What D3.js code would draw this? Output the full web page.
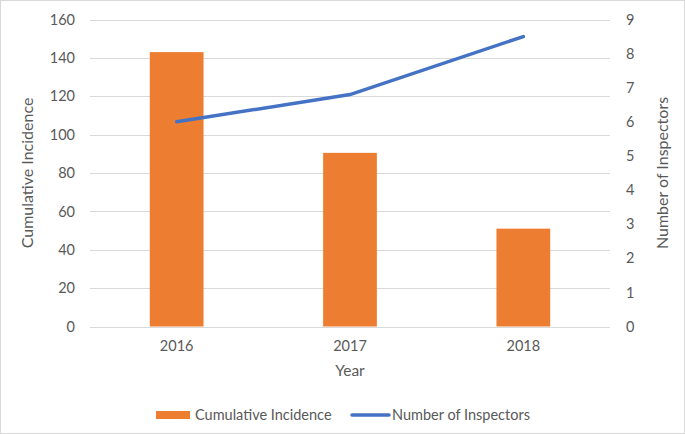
<!DOCTYPE html>
<html><head><meta charset="utf-8">
<script src="https://cdn.jsdelivr.net/npm/d3@7"></script>
<style>body{margin:0;background:#fff}svg{display:block}text{font-family:Lato,"Open Sans",sans-serif;fill:#595959}</style>
</head><body>
<svg id="c" width="685" height="434"></svg>
<script>
const years = ["2016","2017","2018"];
const incidence = [143, 90.5, 51];
const inspectors = [6, 6.8, 8.5];
const leftTicks = [0,20,40,60,80,100,120,140,160];
const rightTicks = [0,1,2,3,4,5,6,7,8,9];

const svg = d3.select("#c");
const W=685,H=434;
svg.append("rect").attr("x",0.5).attr("y",0.5).attr("width",W-1).attr("height",H-1).attr("fill","#fff").attr("stroke","#d9d9d9");
const L=90,R=610,T=19.5,B=326.5;
const x = d3.scaleBand().domain(years).range([L,R]).paddingInner(0.69).paddingOuter(0.345);
const yL = d3.scaleLinear().domain([0,160]).range([B,T]);
const yR = d3.scaleLinear().domain([0,9]).range([B,T]);

svg.append("g").selectAll("line").data(leftTicks).join("line")
  .attr("x1",L).attr("x2",R).attr("y1",d=>Math.round(yL(d))+0.5).attr("y2",d=>Math.round(yL(d))+0.5)
  .attr("stroke","#d9d9d9").attr("stroke-width",1);

svg.append("g").selectAll("rect").data(years).join("rect")
  .attr("x",d=>x(d)).attr("width",x.bandwidth())
  .attr("y",(d,i)=>yL(incidence[i])).attr("height",(d,i)=>B-yL(incidence[i]))
  .attr("fill","#ED7D31");

const line = d3.line().x((d,i)=>x(years[i])+x.bandwidth()/2).y(d=>yR(d));
svg.append("path").datum(inspectors).attr("d",line).attr("fill","none")
  .attr("stroke","#4472C4").attr("stroke-width",3.5).attr("stroke-linecap","round");

const gl = svg.append("g").attr("transform",`translate(${L},0)`)
  .call(d3.axisLeft(yL).tickValues(leftTicks).tickSize(0).tickPadding(15));
gl.select(".domain").remove();
gl.selectAll("text").style("font-size","14.5px").attr("fill","#595959");
const gr = svg.append("g").attr("transform",`translate(${R},0)`)
  .call(d3.axisRight(yR).tickValues(rightTicks).tickSize(0).tickPadding(16));
gr.select(".domain").remove();
gr.selectAll("text").style("font-size","14.5px").attr("fill","#595959");
const gx = svg.append("g").attr("transform",`translate(0,${B})`)
  .call(d3.axisBottom(x).tickSize(0).tickPadding(14));
gx.select(".domain").remove();
gx.selectAll("text").style("font-size","14.5px").attr("fill","#595959");

svg.append("text").attr("x",350).attr("y",376).attr("text-anchor","middle").style("font-size","15.5px").text("Year");
svg.append("text").attr("transform","translate(33,173) rotate(-90)").attr("text-anchor","middle").style("font-size","16px").text("Cumulative Incidence");
svg.append("text").attr("transform","translate(668,173) rotate(-90)").attr("text-anchor","middle").style("font-size","16px").text("Number of Inspectors");

const lg = svg.append("g");
lg.append("rect").attr("x",156).attr("y",411).attr("width",34).attr("height",8).attr("fill","#ED7D31");
lg.append("text").attr("x",195).attr("y",420).style("font-size","14.5px").text("Cumulative Incidence");
lg.append("line").attr("x1",352).attr("x2",389).attr("y1",415).attr("y2",415).attr("stroke","#4472C4").attr("stroke-width",3.5).attr("stroke-linecap","round");
lg.append("text").attr("x",392).attr("y",420).style("font-size","14.5px").text("Number of Inspectors");
</script>
</body></html>
